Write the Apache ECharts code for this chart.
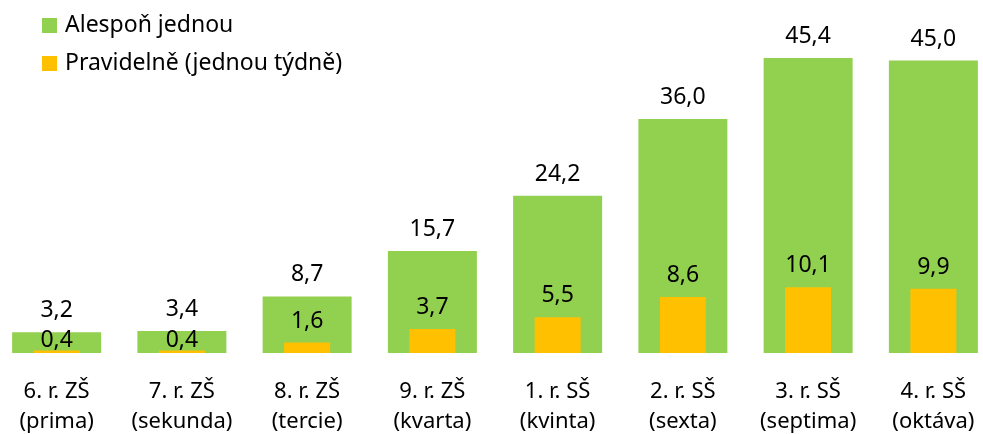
<!DOCTYPE html>
<html>
<head>
<meta charset="utf-8">
<script src="https://cdn.jsdelivr.net/npm/echarts@6/dist/echarts.min.js"></script>
<style>
  html, body { margin: 0; padding: 0; background: #fff; overflow: hidden; }
  /* the plot runs slightly past both window edges */
  #chart { width: 1002px; height: 434px; margin-left: -6px; }
</style>
</head>
<body>
<div id="chart"></div>
<script>
// School years (grade + gymnasium class name)
const categories = [
  '6. r. ZŠ\n(prima)',
  '7. r. ZŠ\n(sekunda)',
  '8. r. ZŠ\n(tercie)',
  '9. r. ZŠ\n(kvarta)',
  '1. r. SŠ\n(kvinta)',
  '2. r. SŠ\n(sexta)',
  '3. r. SŠ\n(septima)',
  '4. r. SŠ\n(oktáva)'
];
const seriesNames = ['Alespoň jednou', 'Pravidelně (jednou týdně)'];
const atLeastOnce = [3.2, 3.4, 8.7, 15.7, 24.2, 36.0, 45.4, 45.0];
const regularly = [0.4, 0.4, 1.6, 3.7, 5.5, 8.6, 10.1, 9.9];

const FONT = '"Noto Sans", "Open Sans", sans-serif';
const fmt = p => p.value.toFixed(1).replace('.', ',');

// the two smallest weekly values sit right on their bars so they clear the labels above
const regularData = regularly.map(v => (
  v < 1 ? { value: v, label: { distance: -2 } } : v
));

const chart = echarts.init(document.getElementById('chart'), null, { renderer: 'canvas' });
chart.setOption({
  animation: false,
  textStyle: { fontFamily: FONT, color: '#000' },
  legend: {
    orient: 'vertical',
    left: 48,
    top: 13,
    padding: 0,
    itemWidth: 15,
    itemHeight: 15,
    itemGap: 13,
    icon: 'rect',
    textStyle: { fontFamily: FONT, fontSize: 23, lineHeight: 25, color: '#000', padding: [0, 0, 0, 3] },
    data: seriesNames
  },
  grid: { left: 0, right: 0, top: 28, bottom: 81, outerBoundsMode: 'none' },
  xAxis: [
    {
      type: 'category',
      data: categories,
      axisLine: { show: false },
      axisTick: { show: false },
      axisLabel: { fontFamily: FONT, fontSize: 22, lineHeight: 30, color: '#000', margin: 24, interval: 0 }
    },
    {
      type: 'category',
      data: categories,
      show: false
    }
  ],
  yAxis: {
    type: 'value',
    min: 0,
    max: 50,
    show: false,
    splitLine: { show: false }
  },
  series: [
    {
      name: seriesNames[0],
      type: 'bar',
      xAxisIndex: 0,
      data: atLeastOnce,
      barWidth: 89,
      itemStyle: { color: '#92D050' },
      label: { show: true, position: 'top', distance: 10, fontFamily: FONT, fontSize: 23, color: '#000', formatter: fmt }
    },
    {
      name: seriesNames[1],
      type: 'bar',
      xAxisIndex: 1,
      data: regularData,
      barWidth: 46,
      z: 3,
      itemStyle: { color: '#FFC000' },
      label: { show: true, position: 'top', distance: 10, fontFamily: FONT, fontSize: 23, color: '#000', formatter: fmt }
    }
  ]
});
</script>
</body>
</html>
